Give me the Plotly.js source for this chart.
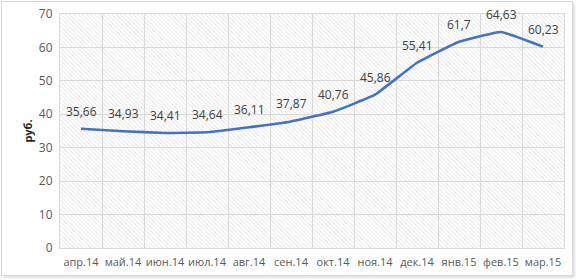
<!DOCTYPE html>
<html><head><meta charset="utf-8">
<script src="https://cdn.plot.ly/plotly-3.0.1.min.js"></script>
<style>
html,body{margin:0;padding:0;background:#fff;width:579px;height:280px;overflow:hidden;}
#frame{position:absolute;left:1px;top:1px;width:570px;height:273px;border:1px solid #d9d9d9;box-shadow:2px 2px 2px rgba(0,0,0,0.12);background:#fff;}
#chart{width:570px;height:273px;}
</style></head>
<body><div id="frame"><div id="chart"></div></div>
<script>
var categories = ["апр.14","май.14","июн.14","июл.14","авг.14","сен.14","окт.14","ноя.14","дек.14","янв.15","фев.15","мар.15"];
var values = [35.66, 34.93, 34.41, 34.64, 36.11, 37.87, 40.76, 45.86, 55.41, 61.7, 64.63, 60.23];
var valueLabels = ["35,66","34,93","34,41","34,64","36,11","37,87","40,76","45,86","55,41","61,7","64,63","60,23"];
var yTicks = [0,10,20,30,40,50,60,70];

var W = 570, H = 273;
var m = {l:58, r:8, t:12, b:27};
var pw = W - m.l - m.r, ph = H - m.t - m.b;
var svg = '<svg xmlns="http://www.w3.org/2000/svg" width="'+pw+'" height="'+ph+'" preserveAspectRatio="none">' +
  '<defs><pattern id="p" width="3" height="3" patternUnits="userSpaceOnUse" patternTransform="rotate(-45)">' +
  '<rect width="3" height="3" fill="#ffffff"/><line x1="0" y1="0" x2="0" y2="3" stroke="#dadada" stroke-width="1.2"/></pattern></defs>' +
  '<rect width="100%" height="100%" fill="url(#p)"/></svg>';
var src = 'data:image/svg+xml;charset=utf-8,' + encodeURIComponent(svg);

var font = "'Open Sans', sans-serif";
var trace = {
  x: categories, y: values,
  type: 'scatter', mode: 'lines',
  line: {color:'#4472c4', width:2.6, shape:'spline', smoothing:0.3},
  hoverinfo:'none'
};
var annotations = categories.map(function(c, i){
  return {x: c, y: values[i], xref:'x', yref:'y', text: valueLabels[i], showarrow:false,
    yanchor:'bottom', yshift:7, font:{family: font, size:12, color:'#404040'}};
});
var layout = {
  width: W, height: H,
  margin: m,
  paper_bgcolor: 'rgba(0,0,0,0)', plot_bgcolor: 'rgba(0,0,0,0)',
  showlegend: false,
  annotations: annotations,
  images: [{source: src, xref:'paper', yref:'paper', x:0, y:1, sizex:1, sizey:1, sizing:'stretch', layer:'below', xanchor:'left', yanchor:'top'}],
  xaxis: {type:'category', range:[-0.5, 11.5], tickson:'boundaries', ticks:'', tickangle:0, showgrid:true, gridcolor:'#d9d9d9', gridwidth:1,
    showline:true, linecolor:'#d9d9d9', mirror:true, zeroline:false, ticklabelstandoff:4,
    tickfont:{family: font, size:11, color:'#595959'}, fixedrange:true},
  yaxis: {range:[0,70], tickvals:yTicks, ticktext:yTicks.map(String), showgrid:true, gridcolor:'#d9d9d9', gridwidth:1,
    showline:true, linecolor:'#d9d9d9', mirror:true, zeroline:false, ticks:'',
    tickfont:{family: font, size:12, color:'#595959'}, ticklabelstandoff:4,
    title:{text:'<b>руб.</b>', font:{family: font, size:11, color:'#262626'}, standoff:4}, fixedrange:true}
};
Plotly.newPlot('chart', [trace], layout, {displayModeBar:false, staticPlot:true});
</script></body></html>
